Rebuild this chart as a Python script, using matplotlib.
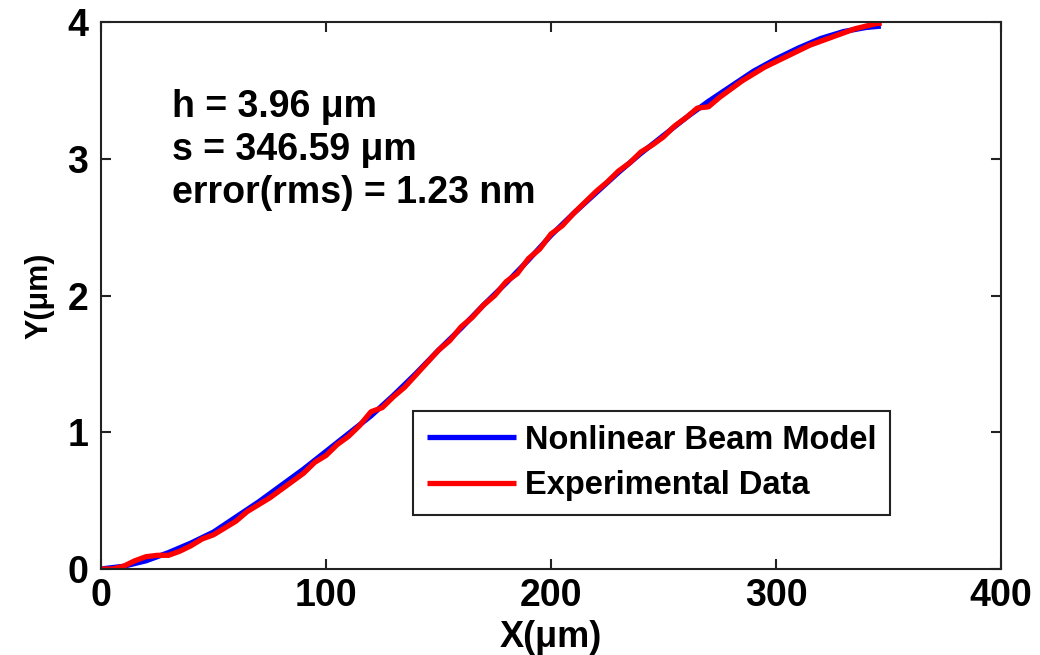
import matplotlib
matplotlib.use("Agg")
import matplotlib.pyplot as plt

# Nonlinear beam model (smooth fit)
model_x = [0, 10, 20, 30, 40, 50, 60, 70, 80, 90, 100, 110, 120, 130, 140, 150,
           160, 170, 180, 190, 200, 210, 220, 230, 240, 250, 260, 270, 280, 290,
           300, 310, 320, 330, 340, 346.59]
model_y = [0.00, 0.02, 0.06, 0.12, 0.19, 0.27, 0.38, 0.49, 0.61, 0.73, 0.86, 0.99,
           1.12, 1.27, 1.43, 1.60, 1.76, 1.93, 2.09, 2.26, 2.44, 2.60, 2.75, 2.90,
           3.04, 3.17, 3.30, 3.42, 3.53, 3.64, 3.73, 3.81, 3.88, 3.93, 3.96, 3.97]

# Measured profile
exp_x = [0, 5, 10, 15, 20, 25, 30, 35, 40, 45, 50, 55, 60, 65, 70, 75, 80, 85, 90,
         95, 100, 105, 110, 115, 120, 125, 130, 135, 140, 145, 150, 155, 160, 165,
         170, 175, 180, 185, 190, 195, 200, 205, 210, 215, 220, 225, 230, 235, 240,
         245, 250, 255, 260, 265, 270, 275, 280, 285, 290, 295, 300, 305, 310, 315,
         320, 325, 330, 335, 340, 345, 347]
exp_y = [0.00, 0.00, 0.02, 0.06, 0.09, 0.10, 0.10, 0.13, 0.17, 0.22, 0.25, 0.30,
         0.35, 0.42, 0.47, 0.52, 0.58, 0.64, 0.70, 0.78, 0.83, 0.91, 0.97, 1.05,
         1.15, 1.18, 1.26, 1.33, 1.42, 1.51, 1.60, 1.67, 1.77, 1.84, 1.93, 2.00,
         2.10, 2.16, 2.27, 2.34, 2.45, 2.51, 2.60, 2.68, 2.76, 2.83, 2.91, 2.97,
         3.05, 3.10, 3.16, 3.24, 3.30, 3.37, 3.38, 3.45, 3.51, 3.57, 3.62, 3.67,
         3.71, 3.75, 3.79, 3.83, 3.86, 3.89, 3.92, 3.95, 3.97, 3.99, 3.99]

x_ticks = [0, 100, 200, 300, 400]
y_ticks = [0, 1, 2, 3, 4]
notes = ["h = 3.96 \u03bcm", "s = 346.59 \u03bcm", "error(rms) = 1.23 nm"]

plt.rcParams["font.family"] = ["Liberation Sans", "DejaVu Sans"]
plt.rcParams["font.weight"] = "bold"

fig = plt.figure(figsize=(10.4, 6.55), dpi=100)
ax = fig.add_axes([101 / 1040, 1 - 569 / 655, 900 / 1040, 547 / 655])

ax.plot(model_x, model_y, color="#0000ff", lw=3.8, label="Nonlinear Beam Model",
        solid_capstyle="butt")
ax.plot(exp_x, exp_y, color="#ff0000", lw=3.8, label="Experimental Data",
        solid_capstyle="butt")

ax.set_xlim(0, 400)
ax.set_ylim(0, 4)
ax.set_xticks(x_ticks)
ax.set_yticks(y_ticks)
ax.tick_params(direction="in", length=7, width=1.5, top=True, right=True,
               labelsize=27, colors="#222222", labelcolor="black")
ax.tick_params(axis="x", pad=6.5)
ax.tick_params(axis="y", pad=9)
for lab in ax.get_xticklabels() + ax.get_yticklabels():
    lab.set_fontweight("bold")
for sp in ax.spines.values():
    sp.set_linewidth(1.5)
    sp.set_color("#222222")

ax.set_xlabel("X(\u03bcm)", fontsize=26, fontweight="bold")
ax.xaxis.set_label_coords(0.5, -0.093)
ax.set_ylabel("Y(\u03bcm)", fontsize=22, fontweight="bold")
ax.yaxis.set_label_coords(-0.052, 0.5)

for text, yv in zip(notes, [3.305, 2.99, 2.68]):
    ax.text(31.6, yv, text, fontsize=27, fontweight="bold", ha="left",
            va="baseline")

leg = ax.legend(loc="lower left", bbox_to_anchor=(0.3467, 0.0987),
                borderaxespad=0, fontsize=23.5, frameon=True, fancybox=False,
                framealpha=1, edgecolor="#222222", handlelength=2.75,
                handletextpad=0.25, labelspacing=0.45, borderpad=0.42)
leg.get_frame().set_linewidth(1.5)
for t in leg.get_texts():
    t.set_fontweight("bold")

fig.savefig("out.png", dpi=100)
